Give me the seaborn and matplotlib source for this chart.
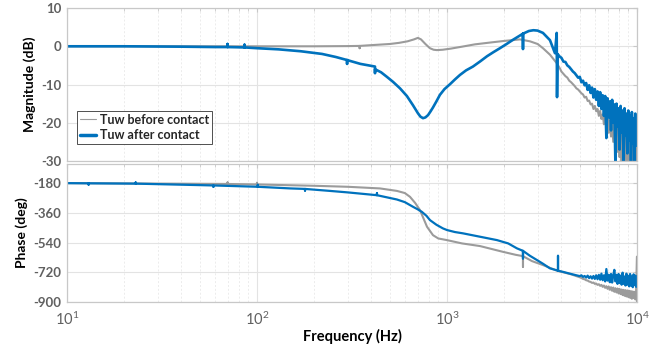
import matplotlib
matplotlib.use("Agg")
import matplotlib.pyplot as plt
from matplotlib.lines import Line2D
from matplotlib.ticker import LogLocator, NullFormatter, FixedLocator
import seaborn as sns
import pandas as pd

# ---------------- data ----------------
# Magnitude, before contact (gray)
mag_before_f = [10, 30, 100, 200, 300, 347, 347, 347, 400, 500, 560, 620, 670, 703, 730, 770, 813,
                850, 885, 950, 1050, 1200, 1400, 1700, 2000, 2420, 2734, 3000, 3200, 3484,
                3793, 3950,
                4000, 4100, 4200, 4300, 4400, 4500, 4600, 4700, 4800, 4900, 5000, 5100, 5200,
                5300, 5400, 5500, 5600, 5700, 5800, 5900, 6000, 6100, 6200, 6300, 6400, 6500,
                6600, 6700, 6800, 6900, 7000, 7100, 7200, 7300, 7400, 7500, 7600, 7700, 7800,
                7900, 8000, 8100, 8200, 8300, 8400, 8500, 8600, 8700, 8800, 8900, 9000, 9100,
                9200, 9300, 9400, 9500, 9600, 9700, 9800, 9900, 10000]
mag_before_db = [0.0, 0.0, 0.0, 0.0, 0.05, 0.1, -0.5, 0.1, 0.3, 0.6, 0.9, 1.3, 1.8, 2.2, 1.8, 0.6, -0.5,
                 -0.9, -1.0, -0.9, -0.6, -0.1, 0.5, 1.0, 1.4, 1.8, 1.3, 0.6, -0.5, -2.2,
                 -4.5, -6.0,
                 -6.6, -7.2, -7.8, -8.2, -9.0, -9.4, -9.9, -10.4, -11.0, -11.3, -11.8, -12.3, -12.6,
                 -13.4, -13.2, -14.3, -14.2, -15.2, -15.0, -16.4, -15.6, -17.0, -16.4, -18.2, -16.9, -19.0,
                 -17.8, -20.4, -18.3, -21.2, -19.0, -22.6, -19.4, -23.6, -20.0, -25.0, -20.4, -26.0, -20.9,
                 -27.6, -21.4, -29.0, -21.8, -31.0, -22.2, -29.4, -22.6, -31.0, -23.0, -30.4, -23.2, -31.0,
                 -23.6, -28.6, -23.8, -31.0, -24.0, -31.0, -24.2, -31.0, -24.5]

# Magnitude, after contact (blue)
mag_after_f = [10, 20, 40, 60, 70, 70, 70, 86, 86, 86, 100, 130, 170, 220, 260, 298, 298, 298, 350,
               418, 418, 418, 450, 483, 520, 566, 615, 662, 703, 725, 748, 770, 795, 820, 844,
               880, 918, 970, 1038, 1100, 1170, 1260, 1370, 1500, 1625, 1760, 1900, 2060, 2225,
               2512, 2512, 2512, 2700, 2850, 3000, 3200, 3484, 3700, 3780, 3795, 3820, 3920,
               4000, 4100, 4200, 4300, 4400, 4500, 4600, 4700, 4800, 4900, 5000, 5100, 5200,
               5300, 5400, 5500, 5600, 5700, 5800, 5900, 6000, 6100, 6200, 6300, 6400, 6500,
               6600, 6700, 6800, 6900, 7000, 7100, 7200, 7300, 7400, 7500, 7600, 7700, 7800,
               7900, 8000, 8100, 8200, 8300, 8400, 8500, 8600, 8700, 8800, 8900, 9000, 9100,
               9200, 9300, 9400, 9500, 9600, 9700, 9800, 9900, 10000]
mag_after_db = [0.0, 0.0, -0.1, -0.2, -0.2, 0.6, -0.2, -0.3, 0.4, -0.3, -0.5, -0.8, -1.3, -2.0, -2.8, -3.6, -4.6, -3.6, -4.6,
                -5.3, -7.0, -6.0, -6.8, -8.0, -9.3, -11.0, -13.0, -15.4, -17.5, -18.4, -18.8, -18.6, -18.0, -17.0, -16.0,
                -14.4, -12.7, -11.2, -9.9, -8.7, -7.5, -6.3, -5.3, -3.9, -2.6, -1.5, -0.5, 0.6, 1.7,
                3.3, -0.7, 3.3, 4.0, 4.2, 4.1, 3.5, 1.6, -1.8, 3.5, -13.3, -2.0, -2.7,
                -3.0, -4.0, -4.1, -5.0, -5.4, -6.0, -6.6, -7.0, -7.6, -8.2, -8.0, -9.4, -9.0,
                -10.2, -9.6, -11.4, -10.2, -12.2, -10.8, -13.4, -11.2, -14.0, -11.8, -15.6, -12.0, -16.4,
                -12.8, -18.2, -13.0, -24.0, -13.6, -18.6, -14.4, -22.0, -14.0, -20.0, -15.2, -31.0, -15.0,
                -21.0, -16.2, -27.0, -15.6, -22.6, -16.8, -31.0, -16.2, -23.4, -17.6, -28.0, -16.8, -24.6,
                -18.2, -31.0, -17.2, -25.4, -18.8, -31.0, -17.6, -26.0, -19.0]

# Phase, before contact (gray)
ph_before_f = [10, 50, 70, 70, 70, 100, 100, 100, 200, 300, 444, 545, 600, 639, 680, 721, 750, 785, 844,
               900, 1000, 1200, 1492, 1972, 2300, 2512, 2512, 2512, 2800, 3200, 3793, 4500,
               5000, 5100, 5200, 5300, 5400, 5500, 5600, 5700, 5800, 5900, 6000, 6100, 6200,
               6300, 6400, 6500, 6600, 6700, 6800, 6900, 7000, 7100, 7200, 7300, 7400, 7500,
               7600, 7700, 7800, 7900, 8000, 8100, 8200, 8300, 8400, 8500, 8600, 8700, 8800,
               8900, 9000, 9100, 9200, 9300, 9400, 9500, 9600, 9700, 9800, 9900, 10000, 10000]
ph_before_deg = [-180, -184, -185, -176, -185, -188, -178, -188, -196, -202, -212, -227, -240, -263, -300, -343, -390, -444, -495,
                 -515, -525, -545, -561, -596, -614, -622, -686, -622, -652, -676, -710, -732,
                 -750, -754, -760, -762, -768, -770, -776, -778, -784, -782, -790, -788, -796,
                 -792, -802, -796, -808, -800, -814, -804, -820, -806, -826, -810, -832, -812,
                 -838, -816, -842, -818, -848, -820, -852, -824, -858, -826, -862, -828, -866,
                 -830, -870, -832, -874, -834, -880, -836, -876, -838, -884, -840, -625, -900]

# Phase, after contact (blue)
ph_after_f = [10, 13, 13, 13, 23, 23, 23, 50, 59, 59, 59, 101, 101, 101, 150, 179, 179, 179, 242, 300,
              428, 428, 428, 545, 600, 662, 700, 738, 780, 814, 880, 952, 1000, 1100, 1214, 1500,
              1834, 2100, 2336, 2512, 2512, 2512, 2734, 2978, 3200, 3484, 3840, 3840, 3840,
              4074, 4500,
              5000, 5100, 5200, 5300, 5400, 5500, 5600, 5700, 5800, 5900, 6000, 6100, 6200,
              6300, 6400, 6500, 6600, 6700, 6800, 6900, 7000, 7100, 7200, 7300, 7400, 7500,
              7600, 7700, 7800, 7900, 8000, 8100, 8200, 8300, 8400, 8500, 8600, 8700, 8800,
              8900, 9000, 9100, 9200, 9300, 9400, 9500, 9600, 9700, 9800, 9900, 10000]
ph_after_deg = [-180, -181, -189, -181, -183, -176, -183, -192, -194, -202, -194, -202, -190, -202, -212, -215, -225, -215, -227, -236,
                -253, -241, -253, -279, -295, -323, -338, -354, -378, -404, -432, -454, -464, -476, -484, -505,
                -525, -545, -575, -590, -636, -590, -620, -646, -668, -696, -710, -620, -710,
                -717, -730,
                -743, -738, -748, -742, -752, -740, -755, -744, -758, -742, -760, -738, -762,
                -735, -765, -728, -768, -738, -775, -700, -770, -735, -780, -730, -782, -740,
                -705, -775, -735, -790, -730, -785, -740, -795, -722, -790, -745, -800, -728,
                -795, -742, -805, -730, -800, -745, -810, -732, -798, -740, -808, -745]

series_before = "Tuw before contact"
series_after = "Tuw after contact"
mag_yticks = [10, 0, -10, -20, -30]
ph_yticks = [-180, -360, -540, -720, -900]
x_ticks = [10, 100, 1000, 10000]
x_ticklabels = ["$10^1$", "$10^2$", "$10^3$", "$10^4$"]

# ---------------- style ----------------
sns.set_style("white")
plt.rcParams["font.family"] = ["Lato", "DejaVu Sans"]
plt.rcParams["mathtext.fontset"] = "custom"
plt.rcParams["mathtext.rm"] = "Lato"
plt.rcParams["mathtext.it"] = "Lato:italic"
plt.rcParams["mathtext.bf"] = "Lato:bold"

GRAY = "#9b9b9b"
BLUE = "#0072bd"
TICKC = "#606060"
SPINE = "#c8c8c8"

fig = plt.figure(figsize=(6.67, 3.5), dpi=100)
ax1 = fig.add_axes([0.1004, 0.540, 0.8546, 0.437])
ax2 = fig.add_axes([0.1004, 0.137, 0.8546, 0.394], sharex=ax1)

df_mb = pd.DataFrame({"f": mag_before_f, "v": mag_before_db})
df_ma = pd.DataFrame({"f": mag_after_f, "v": mag_after_db})
df_pb = pd.DataFrame({"f": ph_before_f, "v": ph_before_deg})
df_pa = pd.DataFrame({"f": ph_after_f, "v": ph_after_deg})

sns.lineplot(data=df_mb, x="f", y="v", ax=ax1, color=GRAY, lw=1.5, estimator=None, sort=False)
sns.lineplot(data=df_ma, x="f", y="v", ax=ax1, color=BLUE, lw=1.9, estimator=None, sort=False)
sns.lineplot(data=df_pb, x="f", y="v", ax=ax2, color=GRAY, lw=1.5, estimator=None, sort=False)
sns.lineplot(data=df_pa, x="f", y="v", ax=ax2, color=BLUE, lw=1.6, estimator=None, sort=False)

for ax in (ax1, ax2):
    ax.set_xscale("log")
    ax.set_xlim(10, 10000)
    ax.xaxis.set_minor_locator(LogLocator(base=10, subs=range(2, 10)))
    ax.xaxis.set_minor_formatter(NullFormatter())
    ax.grid(True, which="major", color="#e3e3e3", lw=0.8)
    ax.grid(True, which="minor", axis="x", color="#ececec", lw=0.7, ls=(0, (2, 2)))
    for s in ax.spines.values():
        s.set_color(SPINE)
        s.set_linewidth(0.9)
    ax.tick_params(which="both", direction="in", color=SPINE, top=True, right=True)
    ax.tick_params(which="major", length=3)
    ax.tick_params(which="minor", length=2)
    ax.tick_params(axis="y", labelcolor=TICKC, labelsize=9.5, pad=4)
    ax.set_axisbelow(True)

ax1.set_ylim(-30, 10)
ax1.set_yticks(mag_yticks)
ax1.set_yticklabels([str(v) for v in mag_yticks], fontweight="bold", color=TICKC, fontsize=9.5)
ax1.tick_params(axis="x", labelbottom=False)
ax1.set_xlabel("")
ax1.set_ylabel("Magnitude (dB)", fontsize=10, fontweight="bold", color="black", labelpad=4)

ax2.set_ylim(-900, -65)
ax2.set_yticks(ph_yticks)
ax2.set_yticklabels([str(v) for v in ph_yticks], fontweight="bold", color=TICKC, fontsize=9.5)
ax2.xaxis.set_major_locator(FixedLocator(x_ticks))
ax2.set_xticklabels(x_ticklabels, color=TICKC, fontsize=10.5)
ax2.tick_params(axis="x", pad=6)
ax2.set_xlabel("Frequency (Hz)", fontsize=10.5, fontweight="bold", color="black", labelpad=1)
ax2.set_ylabel("Phase (deg)", fontsize=10, fontweight="bold", color="black", labelpad=4)

handles = [Line2D([], [], color=GRAY, lw=0.8), Line2D([], [], color=BLUE, lw=2.5)]
leg = ax1.legend(handles, [series_before, series_after], loc="lower left",
                 bbox_to_anchor=(0.0175, 0.111), borderaxespad=0, frameon=True,
                 fancybox=False, edgecolor="#333333", framealpha=1,
                 prop={"weight": "bold", "size": 9}, handlelength=1.3, handletextpad=0.3,
                 borderpad=0.25, labelspacing=0.25)
leg.get_frame().set_linewidth(0.6)

fig.savefig("out.png", dpi=100)
